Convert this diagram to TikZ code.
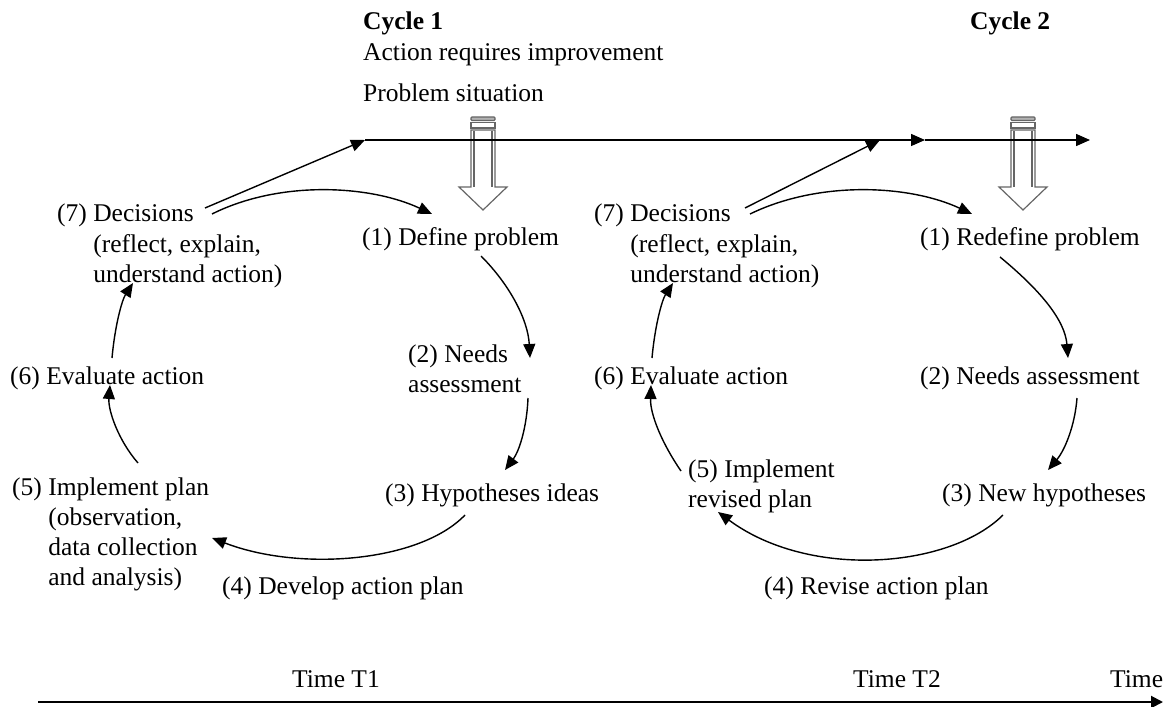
\documentclass[tikz,border=0pt]{standalone}
\usepackage{fontspec}
\setmainfont{Liberation Serif}
\usetikzlibrary{arrows.meta}
\begin{document}
\begin{tikzpicture}[x=1bp,y=-1bp,
  lbl/.style={inner sep=0pt, anchor=base west, font=\fontsize{25.5bp}{30bp}\selectfont},
  arr/.style={line width=1.4bp, -{Triangle[length=14bp,width=12bp]}},
  hollowline/.style={draw=black!60, line width=1.2bp},
  ]
\useasboundingbox (0,0) rectangle (1169,707);

% ---------- hollow striped arrows ----------
\foreach \cx in {483, 1023}{
\begin{scope}[shift={(\cx,0)}]
  \draw[hollowline, fill=black!30, rounded corners=1bp] (-12,117) rectangle (12,120.5);
  \draw[hollowline, fill=white] (-12,122.5) rectangle (12,128);
  \draw[hollowline, fill=white] (-12,130) -- (-12,187) -- (-24,187) -- (0,210) -- (24,187) -- (12,187) -- (12,130) -- cycle;
  \draw[hollowline] (-9,131) -- (-9,187);
  \draw[hollowline] (9,131) -- (9,187);
\end{scope}
}

% ---------- top texts ----------
\node[lbl, font=\fontsize{25.5bp}{30bp}\selectfont\bfseries] (cyc1) at (363,30) {Cycle 1};
\node[lbl] (air) at (363,61) {Action requires improvement};
\node[lbl] (ps) at (363,102) {Problem situation};
\node[lbl, font=\fontsize{25.5bp}{30bp}\selectfont\bfseries] (cyc2) at (970,30) {Cycle 2};

% ---------- cycle 1 labels ----------
\node[lbl] (a7) at (57,222) {\begin{tabular}[t]{@{}l@{\ }l@{}}(7)&Decisions\\&(reflect, explain,\\&understand action)\end{tabular}};
\node[lbl] (a1) at (362,245) {(1) Define problem};
\node[lbl] (a2) at (408,362) {\begin{tabular}[t]{@{}l@{}}(2) Needs\\assessment\end{tabular}};
\node[lbl] (a3) at (385,501) {(3) Hypotheses ideas};
\node[lbl] (a4) at (222,594) {(4) Develop action plan};
\node[lbl] (a5) at (12,495) {\begin{tabular}[t]{@{}l@{\ }l@{}}(5)&Implement plan\\&(observation,\\&data collection\\&and analysis)\end{tabular}};
\node[lbl] (a6) at (10,384) {(6) Evaluate action};

% ---------- cycle 2 labels ----------
\node[lbl] (b7) at (594,222) {\begin{tabular}[t]{@{}l@{\ }l@{}}(7)&Decisions\\&(reflect, explain,\\&understand action)\end{tabular}};
\node[lbl] (b1) at (920,245) {(1) Redefine problem};
\node[lbl] (b2) at (920,384) {(2) Needs assessment};
\node[lbl] (b3) at (942,501) {(3) New hypotheses};
\node[lbl] (b4) at (764,594) {(4) Revise action plan};
\node[lbl] (b5) at (688,477) {\begin{tabular}[t]{@{}l@{}}(5) Implement\\revised plan\end{tabular}};
\node[lbl] (b6) at (594,384) {(6) Evaluate action};

% ---------- time labels ----------
\node[lbl] (t1) at (292,687) {Time T1};
\node[lbl] (t2) at (853,687) {Time T2};
\node[lbl] (tt) at (1110,687) {Time};

% ---------- coordinates ----------
\coordinate (lineA) at (365,140);
\coordinate (lineB) at (925,140);
\coordinate (lineC) at (1090,140);
\coordinate (diagBend) at (880,140);
\coordinate (timeS) at (38,702);
\coordinate (timeE) at (1163,702);

% cycle 1 connector ends
\coordinate (a7d) at (205,208);
\coordinate (a7c) at (212,214);
\coordinate (a1in) at (432,214);
\coordinate (a1out) at (481,256);
\coordinate (a2in) at (530,358);
\coordinate (a2out) at (528,398);
\coordinate (a3in) at (505,470);
\coordinate (a3out) at (465,515);
\coordinate (a5in) at (212,538);
\coordinate (a5out) at (138,463);
\coordinate (a6in) at (110,385);
\coordinate (a6out) at (112,358);
\coordinate (a7in) at (133,283);

% cycle 2 connector ends
\coordinate (b7d) at (745,208);
\coordinate (b7c) at (750,214);
\coordinate (b1in) at (972,214);
\coordinate (b1out) at (1000,257);
\coordinate (b2in) at (1068,358);
\coordinate (b2out) at (1077,398);
\coordinate (b3in) at (1048,470);
\coordinate (b3out) at (1003,515);
\coordinate (b5in) at (718,512);
\coordinate (b5out) at (681,471);
\coordinate (b6in) at (651,385);
\coordinate (b6out) at (652,358);
\coordinate (b7in) at (673,283);

% ---------- top line ----------
\draw[arr] (lineA) -- (lineB);
\draw[arr] (lineB) -- (lineC);
\draw[arr] (a7d) -- (lineA);
\draw[arr] (b7d) -- (diagBend);

% ---------- cycle 1 arrows ----------
\draw[arr] (a7c) .. controls (280,180) and (370,185) .. (a1in);
\draw[arr] (a1out) .. controls (510,285) and (528,320) .. (a2in);
\draw[arr] (a2out) .. controls (527,425) and (520,450) .. (a3in);
\draw[arr] (a3out) .. controls (420,562) and (300,572) .. (a5in);
\draw[arr] (a5out) .. controls (118,440) and (108,410) .. (a6in);
\draw[arr] (a6out) .. controls (115,325) and (122,300) .. (a7in);

% ---------- cycle 2 arrows ----------
\draw[arr] (b7c) .. controls (820,180) and (910,185) .. (b1in);
\draw[arr] (b1out) .. controls (1040,290) and (1065,320) .. (b2in);
\draw[arr] (b2out) .. controls (1075,425) and (1065,450) .. (b3in);
\draw[arr] (b3out) .. controls (950,568) and (810,580) .. (b5in);
\draw[arr] (b5out) .. controls (663,445) and (650,415) .. (b6in);
\draw[arr] (b6out) .. controls (655,325) and (662,300) .. (b7in);

% ---------- time axis ----------
\draw[line width=2bp, -{Triangle[length=12bp,width=12bp]}] (timeS) -- (timeE);
\end{tikzpicture}
\end{document}
